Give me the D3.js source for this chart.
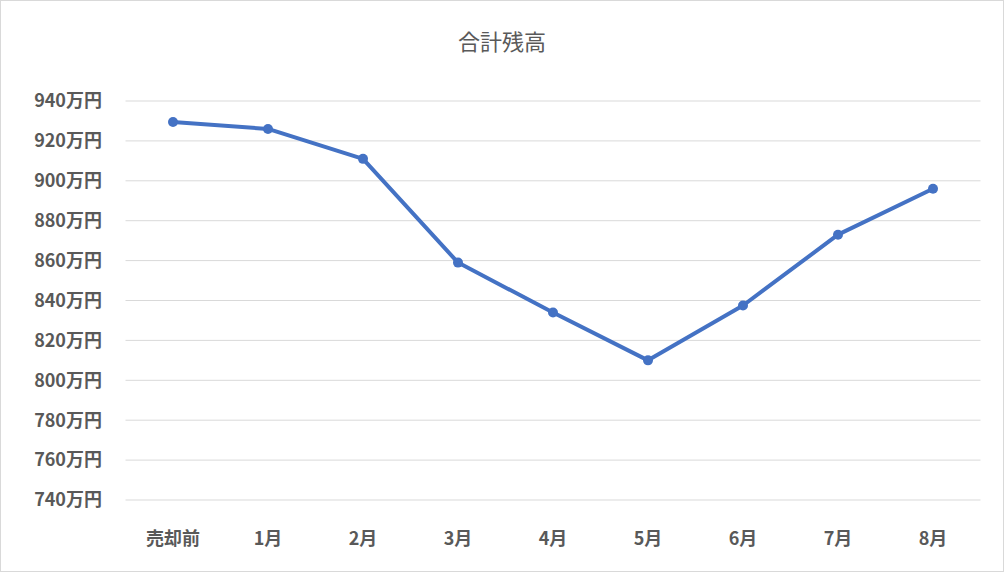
<!DOCTYPE html>
<html><head><meta charset="utf-8">
<script src="https://cdn.jsdelivr.net/npm/d3@7"></script>
<style>body{margin:0;background:#fff}</style>
</head><body>
<svg id="c" width="1005" height="573"></svg>
<script>
const categories = ["売却前","1月","2月","3月","4月","5月","6月","7月","8月"];
const values = [929.5,926,911,859,834,810,837.5,873,896];
const yTicks = [740,760,780,800,820,840,860,880,900,920,940];
const title = "合計残高";

const svg = d3.select("#c");
const font = "'Noto Sans CJK JP','Noto Sans',sans-serif";
svg.append("rect").attr("x",0.5).attr("y",0.5).attr("width",1003).attr("height",571)
  .attr("fill","#fff").attr("stroke","#d9d9d9");
const x = d3.scaleBand().domain(categories).range([125.5,980.5]);
const y = d3.scaleLinear().domain([740,940]).range([500,101]);

svg.append("g").selectAll("line").data(yTicks).join("line")
  .attr("x1",125.5).attr("x2",980.5).attr("y1",d=>y(d)).attr("y2",d=>y(d))
  .attr("stroke","#d9d9d9").attr("stroke-width",1);

svg.append("g").selectAll("text").data(yTicks).join("text")
  .attr("x",102).attr("y",d=>y(d)).attr("dy","0.35em").attr("text-anchor","end")
  .attr("font-family",font).attr("font-size",18).attr("font-weight","bold").attr("fill","#595959")
  .text(d=>d+"万円");

svg.append("g").selectAll("text").data(categories).join("text")
  .attr("x",d=>x(d)+x.bandwidth()/2).attr("y",539).attr("dy","0.35em").attr("text-anchor","middle")
  .attr("font-family",font).attr("font-size",18).attr("font-weight","bold").attr("fill","#595959")
  .text(d=>d);

svg.append("text").attr("x",502).attr("y",42).attr("dy","0.35em").attr("text-anchor","middle")
  .attr("font-family",font).attr("font-size",22).attr("fill","#595959").text(title);

const line = d3.line().x((d,i)=>x(categories[i])+x.bandwidth()/2).y(d=>y(d));
svg.append("path").datum(values).attr("d",line).attr("fill","none")
  .attr("stroke","#4472c4").attr("stroke-width",4).attr("stroke-linejoin","round");
svg.append("g").selectAll("circle").data(values).join("circle")
  .attr("cx",(d,i)=>x(categories[i])+x.bandwidth()/2).attr("cy",d=>y(d)).attr("r",5)
  .attr("fill","#4472c4");
</script>
</body></html>
